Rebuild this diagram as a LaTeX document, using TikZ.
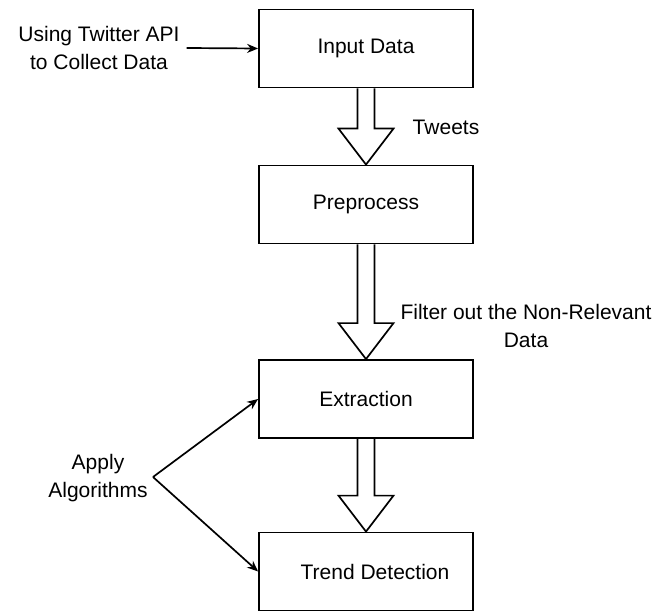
\documentclass[tikz,border=0pt]{standalone}
\usepackage{fontspec}
\setmainfont{Liberation Sans}
\usetikzlibrary{calc,arrows.meta}
\begin{document}
\begin{tikzpicture}[x=1pt, y=-1pt, line join=miter, >={Stealth[length=11pt,width=9pt]},
  font=\fontsize{21}{27.5}\selectfont,
  box/.style={draw, line width=1.8pt, minimum width=214pt, minimum height=78pt, inner sep=0pt},
  lbl/.style={align=center, inner sep=0pt},
  thin/.style={->, line width=1.7pt}]
  \useasboundingbox (0,0) rectangle (669,612);
  \node[box] (input) at (366,48.5) {Input Data};
  \node[box] (prep) at (366,204.5) {Preprocess};
  \node[box] (extr) at (366,399) {Extraction};
  \node[box] (trend) at (366,571.5) {\hspace*{18pt}Trend Detection};
  \node[lbl] (api) at (99,48) {Using Twitter API\\to Collect Data};
  \node[lbl] (tweets) at (446,127) {Tweets};
  \node[lbl] (filter) at (526,326) {Filter out the Non-Relevant\\Data};
  \node[lbl] (apply) at (98,478) {Apply\\Algorithms};
  \coordinate (fork) at (153,477);
  % hollow arrows between the stages
  \foreach \a/\b in {input/prep, prep/extr, extr/trend}
    \draw[line width=1.7pt] let \p1=(\a.south), \p2=(\b.north) in
      (\x1-8.5pt,\y1) -- (\x1-8.5pt,\y2+36pt) -- (\x1-27.5pt,\y2+36pt) -- (\x2,\y2)
      -- (\x1+27.5pt,\y2+36pt) -- (\x1+8.5pt,\y2+36pt) -- (\x1+8.5pt,\y1);
  \draw[thin] (api.east) ++(7,0) -- (input.west);
  \draw[thin] (fork) -- (extr.west);
  \draw[thin] (fork) -- (trend.west);
\end{tikzpicture}
\end{document}
